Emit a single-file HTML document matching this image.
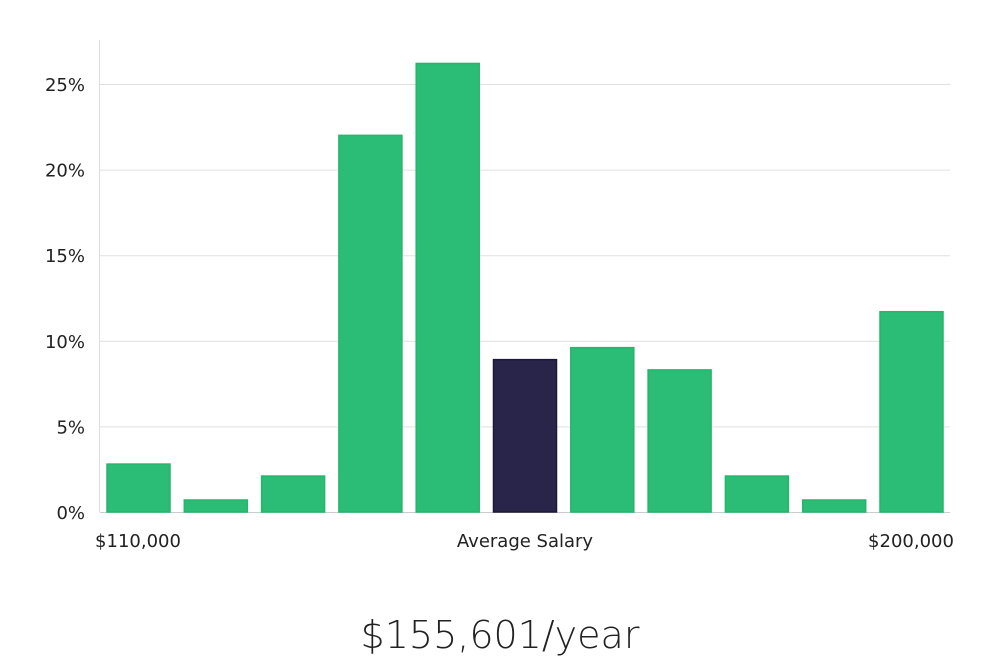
<!DOCTYPE html>
<html><head><meta charset="utf-8"><style>
body{margin:0;background:#fff;width:1000px;height:660px;overflow:hidden;font-family:"DejaVu Sans","Liberation Sans",sans-serif;}
</style></head><body>
<svg width="1000" height="660">
<g id="grid"></g><g id="bars"></g><g id="labels"></g>
<line x1="99.5" y1="40" x2="99.5" y2="512" stroke="#ddd"/>
<text x="138" y="547" font-size="18" fill="#222" text-anchor="middle">$110,000</text>
<text x="525" y="547" font-size="18" fill="#222" text-anchor="middle">Average Salary</text>
<text x="911" y="547" font-size="18" fill="#222" text-anchor="middle">$200,000</text>
<text x="500" y="648" font-size="38" fill="#222" font-weight="300" text-anchor="middle" font-family="'DejaVu Sans',sans-serif">$155,601/year</text>
</svg>
<script>
const categories=["b1","b2","b3","b4","b5","b6","b7","b8","b9","b10","b11"];
const values=[2.8,0.7,2.1,22.0,26.2,8.9,9.6,8.3,2.1,0.7,11.7];
const highlightIndex=5;
const ticks=[0,5,10,15,20,25];
const tickLabels=["0%","5%","10%","15%","20%","25%"];
const ns="http://www.w3.org/2000/svg";
const y0=512,pxPer=(512-84)/25;
const y=v=>y0-v*pxPer;
const x0=100,step=77.3,bw=63;
const xb=i=>x0+7+i*step;
const grid=document.getElementById('grid'),bars=document.getElementById('bars'),labels=document.getElementById('labels');
ticks.forEach((t,i)=>{
 const l=document.createElementNS(ns,'line');
 l.setAttribute('x1',100);l.setAttribute('x2',950);l.setAttribute('y1',y(t)+0.5);l.setAttribute('y2',y(t)+0.5);
 l.setAttribute('stroke',t===0?'#ccc':'#e0e0e0');
 
 
 grid.appendChild(l);
 const tx=document.createElementNS(ns,'text');
 tx.setAttribute('x',85);tx.setAttribute('y',y(t)+7);tx.setAttribute('text-anchor','end');tx.setAttribute('font-size','18');tx.setAttribute('fill','#222');
 tx.textContent=tickLabels[i];
 
 
 labels.appendChild(tx);
});
values.forEach((v,i)=>{
 const r=document.createElementNS(ns,'rect');
 r.setAttribute('x',xb(i));r.setAttribute('y',y(v));r.setAttribute('width',bw);r.setAttribute('height',y0-y(v));
 const hi=i===highlightIndex;
 r.setAttribute('fill',hi?'#29244a':'#2bbd75');
 r.setAttribute('stroke',hi?'#1c1838':'#25b56c');r.setAttribute('stroke-width','1.5');
 
 
 bars.appendChild(r);
});
</script>
</body></html>
